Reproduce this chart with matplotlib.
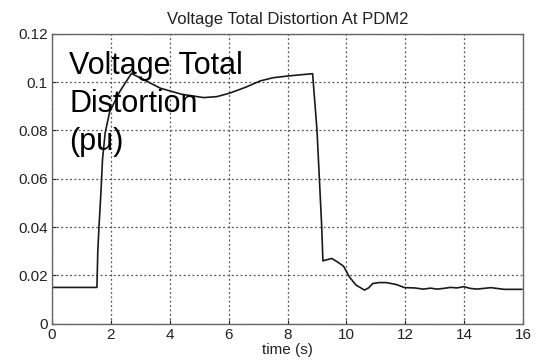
import matplotlib
matplotlib.use("Agg")
import matplotlib.pyplot as plt

plt.rcParams["font.family"] = ["Liberation Sans", "DejaVu Sans"]

# PDM2 voltage total distortion trace (pu) versus time (s)
time_s = [0.05, 1.53, 1.56, 1.60, 1.66, 1.72, 1.81, 1.96, 2.30, 2.70,
          3.20, 3.68, 4.40, 5.15, 5.60, 6.05, 6.60, 7.07, 7.50, 7.98,
          8.40, 8.85, 9.00, 9.08, 9.16, 9.20, 9.35, 9.50, 9.70, 9.90,
          10.09, 10.32, 10.61, 10.75, 10.89, 11.10, 11.35, 11.69, 11.98, 12.30,
          12.61, 12.85, 13.07, 13.30, 13.53, 13.75, 13.98, 14.20, 14.43, 14.90,
          15.35, 15.95]
thd_pu = [0.0150, 0.0150, 0.0300, 0.0400, 0.0530, 0.0680, 0.0790, 0.0876, 0.0960, 0.1036,
          0.1005, 0.0975, 0.0950, 0.0936, 0.0940, 0.0955, 0.0980, 0.1005, 0.1018, 0.1025,
          0.1030, 0.1035, 0.0800, 0.0600, 0.0400, 0.0260, 0.0265, 0.0270, 0.0255, 0.0238,
          0.0195, 0.0160, 0.0139, 0.0148, 0.0166, 0.0170, 0.0170, 0.0162, 0.0149, 0.0148,
          0.0143, 0.0147, 0.0143, 0.0146, 0.0150, 0.0148, 0.0153, 0.0146, 0.0143, 0.0149,
          0.0142, 0.0142]

x_ticks = [0, 2, 4, 6, 8, 10, 12, 14, 16]
y_ticks = [0, 0.02, 0.04, 0.06, 0.08, 0.1, 0.12]
y_tick_labels = ["0", "0.02", "0.04", "0.06", "0.08", "0.1", "0.12"]

fig = plt.figure(figsize=(5.4, 3.6), dpi=100)
ax = fig.add_axes([0.096, 0.101, 0.873, 0.805])

ax.plot(time_s, thd_pu, color="#1a1a1a", linewidth=1.2)

ax.set_xlim(0, 16)
ax.set_ylim(0, 0.12)
ax.set_xticks(x_ticks)
ax.set_yticks(y_ticks)
ax.set_yticklabels(y_tick_labels)
ax.tick_params(direction="in", length=3, labelsize=11, colors="#222222", pad=3)
ax.grid(True, linestyle=(0, (1.5, 2)), color="#555555", linewidth=0.9)
for spine in ax.spines.values():
    spine.set_color("#666666")
    spine.set_linewidth(1.0)

ax.set_title("Voltage Total Distortion At PDM2", fontsize=12, pad=7, color="#222222")
ax.set_xlabel("time (s)", fontsize=11, labelpad=1, color="#222222")

# large in-plot quantity label, upper left
ax.text(0.037, 0.942, "Voltage Total\nDistortion\n(pu)", transform=ax.transAxes,
        fontsize=22, va="top", ha="left", linespacing=1.36, color="black")

fig.savefig("out.png", dpi=100)
plt.close(fig)
